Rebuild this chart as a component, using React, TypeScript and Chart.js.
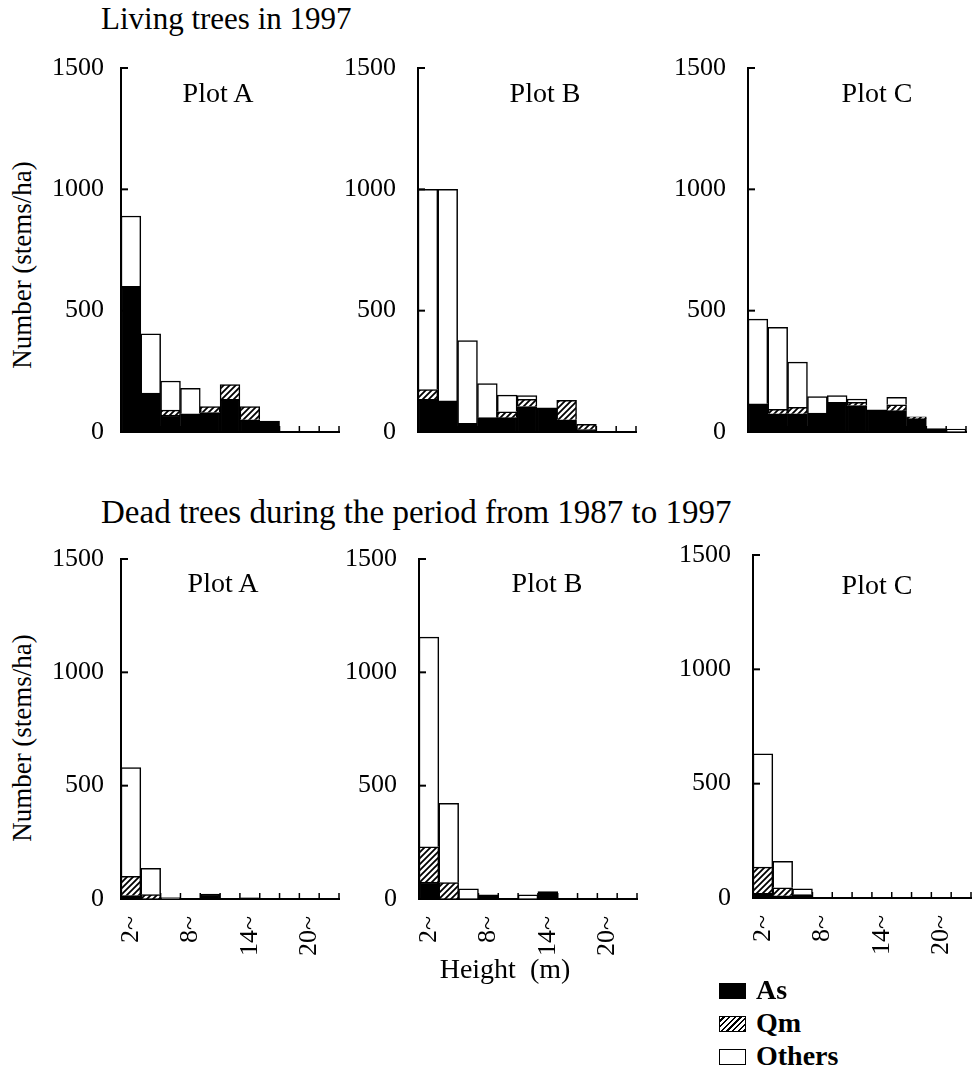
import React, { useEffect, useRef } from 'react';
import { Chart, registerables } from 'chart.js';
Chart.register(...registerables);

// Height classes (m)
const bins = ['2~', '4~', '6~', '8~', '10~', '12~', '14~', '16~', '18~', '20~', '22~'];
const yTickValues = [500, 1000, 1500];

// Living trees in 1997 (stems/ha)
const livA_As = [600, 160, 70, 75, 80, 135, 50, 45, 0, 0, 0];
const livA_Qm = [0, 0, 20, 0, 25, 60, 55, 0, 0, 0, 0];
const livA_Others = [290, 245, 120, 105, 0, 0, 0, 0, 0, 0, 0];

const livB_As = [135, 128, 36, 59, 59, 105, 100, 50, 10, 0, 0];
const livB_Qm = [40, 0, 0, 0, 24, 30, 0, 80, 22, 0, 0];
const livB_Others = [825, 872, 341, 141, 69, 15, 0, 0, 0, 0, 0];

const livC_As = [116, 75, 75, 78, 122, 109, 91, 88, 55, 14, 0];
const livC_Qm = [0, 18, 27, 0, 0, 13, 0, 24, 8, 0, 0];
const livC_Others = [349, 338, 186, 68, 28, 14, 0, 31, 0, 0, 12];

// Dead trees during 1987-1997 (stems/ha)
const deadA_As = [15, 0, 0, 0, 22, 0, 5, 0, 0, 0, 0];
const deadA_Qm = [85, 20, 0, 0, 0, 0, 0, 0, 0, 0, 0];
const deadA_Others = [480, 115, 6, 0, 0, 0, 0, 0, 0, 0, 0];

const deadB_As = [75, 0, 0, 18, 0, 0, 33, 0, 0, 0, 0];
const deadB_Qm = [155, 72, 0, 0, 0, 0, 0, 0, 0, 0, 0];
const deadB_Others = [925, 350, 45, 0, 0, 18, 0, 0, 0, 0, 0];

const deadC_As = [20, 10, 15, 0, 0, 0, 0, 0, 0, 0, 0];
const deadC_Qm = [115, 35, 0, 0, 0, 0, 0, 0, 0, 0, 0];
const deadC_Others = [495, 115, 25, 0, 0, 0, 0, 0, 0, 0, 0];

const FONT = "'Liberation Serif', 'Times New Roman', Times, serif";

function makeHatch(ctx: CanvasRenderingContext2D): CanvasPattern | string {
  const c = document.createElement('canvas');
  c.width = 6;
  c.height = 6;
  const g = c.getContext('2d');
  if (!g) return '#888';
  g.fillStyle = '#fff';
  g.fillRect(0, 0, 6, 6);
  g.strokeStyle = '#000';
  g.lineWidth = 1.8;
  g.beginPath();
  g.moveTo(-1, 7); g.lineTo(7, -1);
  g.moveTo(-4, 4); g.lineTo(4, -4);
  g.moveTo(2, 10); g.lineTo(10, 2);
  g.stroke();
  return ctx.createPattern(c, 'repeat') || '#888';
}

const tickPlugin = {
  id: 'inwardTicks',
  beforeDatasetsDraw(chart: any) {
    const { ctx, scales, chartArea } = chart;
    const x = scales.x;
    ctx.save();
    ctx.strokeStyle = '#000';
    ctx.lineWidth = 1.5;
    const n = bins.length;
    for (let i = 1; i <= n; i++) {
      const px = i < n
        ? (x.getPixelForValue(i - 1) + x.getPixelForValue(i)) / 2
        : chartArea.right;
      ctx.beginPath();
      ctx.moveTo(px, chartArea.bottom);
      ctx.lineTo(px, chartArea.bottom - 6);
      ctx.stroke();
    }
    ctx.restore();
  },
  afterDatasetsDraw(chart: any) {
    const { ctx, scales, chartArea } = chart;
    const y = scales.y;
    ctx.save();
    ctx.strokeStyle = '#000';
    ctx.lineWidth = 2;
    yTickValues.forEach((v) => {
      const py = y.getPixelForValue(v);
      ctx.beginPath();
      ctx.moveTo(chartArea.left, py);
      ctx.lineTo(chartArea.left + 7, py);
      ctx.stroke();
    });
    ctx.restore();
  },
};

type PanelProps = {
  axisX: number;
  areaTop: number;
  plotW: number;
  plotH: number;
  as: number[];
  qm: number[];
  others: number[];
  showX: boolean;
  padY: number;
};

const Y_W = 80;
const PAD_TOP = 16;
const PAD_RIGHT = 8;

function zeroPad(s: any) {
  s.paddingTop = 0;
  s.paddingBottom = 0;
  s.paddingLeft = 0;
  s.paddingRight = 0;
}

function Panel({ axisX, areaTop, plotW, plotH, as, qm, others, showX, padY }: PanelProps) {
  const ref = useRef<HTMLCanvasElement | null>(null);
  const xH = showX ? 76 : 16;
  const w = Y_W + plotW + PAD_RIGHT;
  const h = PAD_TOP + plotH + xH;

  useEffect(() => {
    const canvas = ref.current;
    if (!canvas) return;
    const ctx = canvas.getContext('2d');
    if (!ctx) return;
    const hatch = makeHatch(ctx);
    const common = {
      borderColor: '#000',
      borderWidth: 1.5,
      barPercentage: 1,
      categoryPercentage: 1,
    };
    const chart = new Chart(ctx, {
      type: 'bar',
      data: {
        labels: bins,
        datasets: [
          { label: 'As', data: as, backgroundColor: '#000', ...common },
          { label: 'Qm', data: qm, backgroundColor: hatch as any, ...common },
          { label: 'Others', data: others, backgroundColor: '#fff', ...common },
        ],
      },
      options: {
        animation: false,
        responsive: false,
        maintainAspectRatio: false,
        devicePixelRatio: 1,
        layout: { padding: { top: PAD_TOP, right: PAD_RIGHT, left: 0, bottom: 0 } },
        plugins: {
          legend: { display: false },
          tooltip: { enabled: false },
        },
        scales: {
          x: {
            stacked: true,
            grid: { display: true, drawOnChartArea: false, drawTicks: false },
            border: { display: true, color: '#000', width: 2 },
            ticks: {
              display: showX,
              autoSkip: false,
              maxRotation: 90,
              minRotation: 90,
              padding: 17,
              color: '#000',
              font: { family: FONT, size: 26 },
              callback: (_v: any, i: number) => (i % 3 === 0 ? bins[i] : ''),
            },
            afterFit: (s: any) => {
              s.height = xH;
              zeroPad(s);
            },
          },
          y: {
            stacked: true,
            min: 0,
            max: 1500,
            grid: { display: true, drawOnChartArea: false, drawTicks: false },
            border: { display: true, color: '#000', width: 2 },
            ticks: {
              stepSize: 500,
              padding: padY,
              color: '#000',
              font: { family: FONT, size: 26 },
              callback: (v: any) => String(v),
            },
            afterFit: (s: any) => {
              s.width = Y_W;
              zeroPad(s);
            },
          },
        },
      } as any,
      plugins: [tickPlugin],
    });
    return () => chart.destroy();
  }, []);

  return (
    <canvas
      ref={ref}
      width={w}
      height={h}
      style={{
        position: 'absolute',
        left: axisX - Y_W,
        top: areaTop - PAD_TOP,
        width: w,
        height: h,
      }}
    />
  );
}

function Text({ x, y, size, children, rotate, align, bold }: any) {
  const tx = align === 'left' ? '0' : '-50%';
  return (
    <div
      style={{
        position: 'absolute',
        left: x,
        top: y,
        transform: `translate(${tx}, -50%)${rotate ? ` rotate(${rotate}deg)` : ''}`,
        transformOrigin: align === 'left' ? 'left center' : 'center center',
        fontFamily: FONT,
        fontSize: size,
        fontWeight: bold ? 'bold' : 'normal',
        color: '#000',
        whiteSpace: 'pre',
        lineHeight: 1,
      }}
    >
      {children}
    </div>
  );
}

export default function App() {
  const topRow = 68;
  const topH = 432 - 68;
  const botRow = 559;
  const botH = 899 - 559;
  const pw = 218;
  return (
    <div
      style={{
        position: 'absolute',
        left: 0,
        top: 0,
        width: 976,
        height: 1071,
        background: '#fff',
        overflow: 'hidden',
      }}
    >
      <Text x={101} y={18} size={31} align="left">Living trees in 1997</Text>
      <Text x={101} y={512} size={33} align="left">Dead trees during the period from 1987 to 1997</Text>

      <Text x={22} y={265} size={27} rotate={-90}>Number (stems/ha)</Text>
      <Text x={22} y={738} size={27} rotate={-90}>Number (stems/ha)</Text>

      <Panel axisX={121} areaTop={topRow} plotW={pw} plotH={topH} as={livA_As} qm={livA_Qm} others={livA_Others} showX={false} padY={17} />
      <Panel axisX={418} areaTop={topRow} plotW={pw} plotH={topH} as={livB_As} qm={livB_Qm} others={livB_Others} showX={false} padY={22} />
      <Panel axisX={748} areaTop={topRow} plotW={pw} plotH={topH} as={livC_As} qm={livC_Qm} others={livC_Others} showX={false} padY={22} />

      <Panel axisX={121} areaTop={botRow} plotW={pw} plotH={botH} as={deadA_As} qm={deadA_Qm} others={deadA_Others} showX={true} padY={17} />
      <Panel axisX={419} areaTop={botRow} plotW={pw} plotH={botH} as={deadB_As} qm={deadB_Qm} others={deadB_Others} showX={true} padY={22} />
      <Panel axisX={753} areaTop={botRow - 4} plotW={pw} plotH={botH + 3} as={deadC_As} qm={deadC_Qm} others={deadC_Others} showX={true} padY={22} />

      <Text x={218} y={93} size={28}>Plot A</Text>
      <Text x={545} y={93} size={28}>Plot B</Text>
      <Text x={877} y={93} size={28}>Plot C</Text>
      <Text x={223} y={583} size={28}>Plot A</Text>
      <Text x={547} y={583} size={28}>Plot B</Text>
      <Text x={877} y={585} size={28}>Plot C</Text>

      <Text x={505} y={969} size={28}>{'Height  (m)'}</Text>

      <div style={{ position: 'absolute', left: 719, top: 983, width: 27, height: 16, background: '#000' }} />
      <div
        style={{
          position: 'absolute',
          left: 719,
          top: 1016,
          width: 25,
          height: 14,
          border: '1.5px solid #000',
          background: 'repeating-linear-gradient(-45deg, #000 0 1.6px, #fff 1.6px 4px)',
        }}
      />
      <div style={{ position: 'absolute', left: 719, top: 1049, width: 25, height: 14, border: '1.5px solid #000', background: '#fff' }} />
      <Text x={756} y={990} size={28} align="left" bold>As</Text>
      <Text x={756} y={1023} size={28} align="left" bold>Qm</Text>
      <Text x={756} y={1056} size={28} align="left" bold>Others</Text>
    </div>
  );
}
